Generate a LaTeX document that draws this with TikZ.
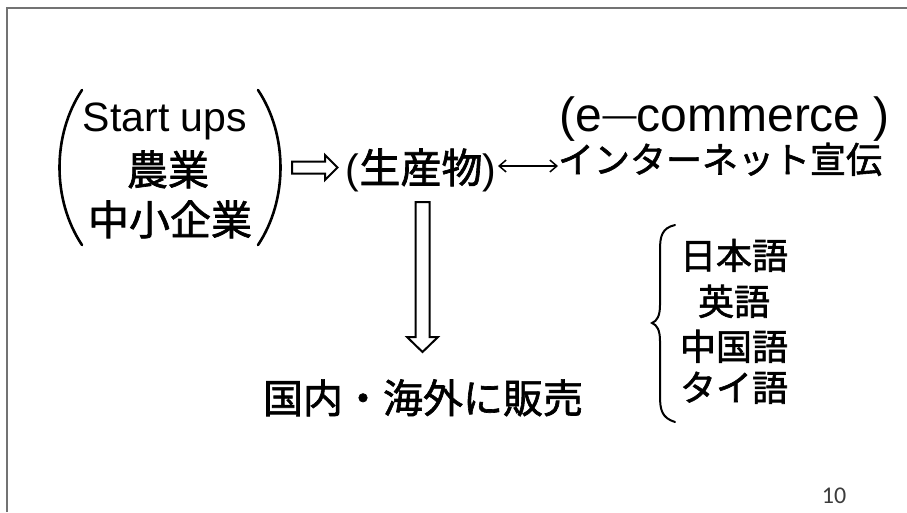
\documentclass[tikz,border=0pt]{standalone}
\usepackage{fontspec}
\setmainfont{Liberation Sans}
\newfontfamily\cjk[FakeBold=1.6]{Noto Sans CJK JP}
\newfontfamily\numfont{Carlito}
\usetikzlibrary{arrows.meta}
\newcommand{\fs}[1]{\fontsize{#1}{#1}\selectfont}
\begin{document}
\begin{tikzpicture}[x=1pt,y=-1pt,
  txt/.style={inner sep=0pt, outer sep=0pt, anchor=base},
  bigparen/.style={line width=2.6pt, line cap=round},
  hollow/.style={draw, line width=2pt, line join=miter, fill=white},
  thinarrow/.style={line width=1.5pt, {Straight Barb[length=7pt,width=12pt]}-{Straight Barb[length=7pt,width=12pt]}},
  frame/.style={line width=1.6pt, draw={rgb,255:red,115;green,115;blue,115}}]
\useasboundingbox (0,0) rectangle (907,512);
\fill[white] (0,0) rectangle (907,512);
\draw[frame] (7,512) -- (7,8) -- (907,8);

% left group
\node[txt] (g1) at (165,131) {\fs{41}Start ups};
\node[txt] (g2) at (168,185) {\cjk\fs{41}農業};
\node[txt] (g3) at (170,235) {\cjk\fs{41}中小企業};
\draw[bigparen] (82,90) .. controls (52,135) and (52,200) .. (82,245);
\draw[bigparen] (258,90) .. controls (288,135) and (288,200) .. (258,245);

% right hollow arrow
\draw[hollow] (292,161.5) -- (325,161.5) -- (325,155) -- (337.5,167.5) -- (325,180) -- (325,173.5) -- (292,173.5) -- cycle;

% product
\node[txt] (prod) at (421,183) {\fs{41}(\cjk 生産物\rmfamily)};

% e-commerce
\node[txt] (ecom) at (725,131) {\fs{48}(e\raisebox{5pt}{\fs{34}—}commerce )};
\node[txt] (inet) at (720,173) {\cjk\fs{36}インターネット宣伝};
\coordinate (pr) at (498,166);
\coordinate (ec) at (558,166);
\draw[thinarrow] (pr) -- (ec);

% down hollow arrow
\draw[hollow] (415.5,202) -- (429.5,202) -- (429.5,337) -- (438,337) -- (422.5,352) -- (407,337) -- (415.5,337) -- cycle;

% sale
\node[txt] (sale) at (423,413) {\cjk\fs{40}国内・海外に販売};

% languages
\draw[line width=2pt, line cap=round] (675,225) .. controls (662,228) and (660,236) .. (660,250) -- (660,305) .. controls (660,316) and (657,321) .. (652,323) .. controls (657,325) and (660,330) .. (660,341) -- (660,396) .. controls (660,410) and (662,418) .. (675,422);
\node[txt] (l1) at (734,269) {\cjk\fs{36}日本語};
\node[txt] (l2) at (734,315) {\cjk\fs{36}英語};
\node[txt] (l3) at (734,360) {\cjk\fs{36}中国語};
\node[txt] (l4) at (734,401) {\cjk\fs{36}タイ語};

% page number
\node[txt, text={rgb,255:red,60;green,60;blue,60}] (pg) at (834,503) {\numfont\fs{24}10};
\end{tikzpicture}
\end{document}
